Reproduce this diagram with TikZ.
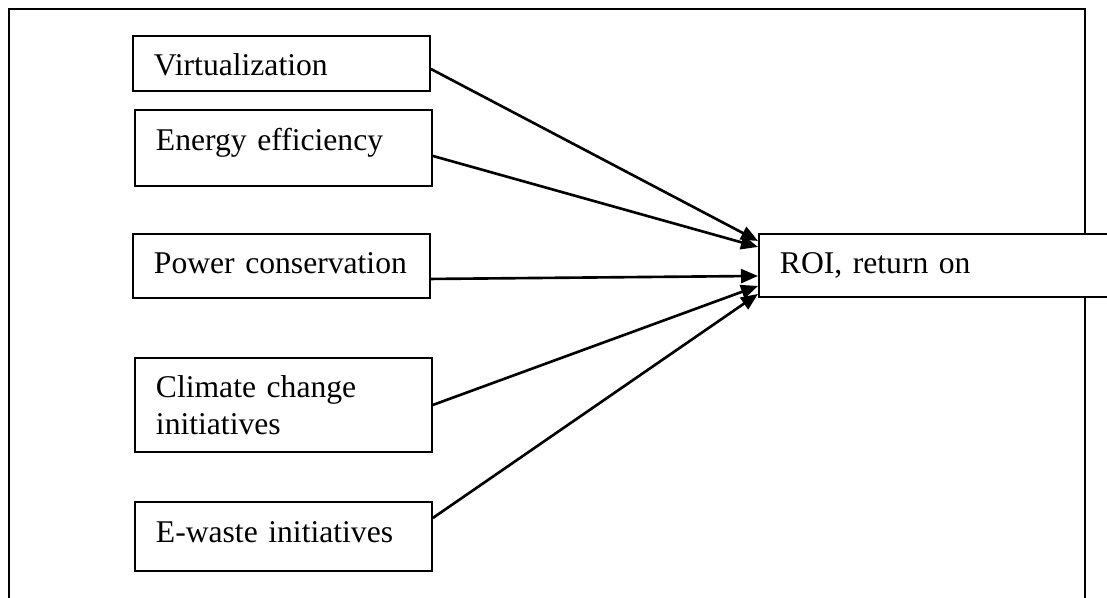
\documentclass[tikz,border=0pt]{standalone}
\usepackage{fontspec}
\setmainfont{Liberation Serif}
\usetikzlibrary{arrows.meta, positioning}

\begin{document}
\begin{tikzpicture}[
    x=0.02cm, y=-0.02cm,
    font=\fontsize{18}{20.7}\selectfont,
    factor/.style={
        rectangle, draw=black, fill=white, line width=1.1pt,
        anchor=north west, align=left, text width=5.1cm,
        inner xsep=0.42cm, inner ysep=0pt
    },
    outcome/.style={factor, text width=6.4cm},
    frame/.style={line width=1.7pt},
    arr/.style={-{Triangle[length=0.34cm, width=0.28cm]}, line width=1.5pt},
]

\useasboundingbox (0,0) rectangle (1107,598);

% outer frame, open at the bottom
\draw[frame] (9,598) -- (9,9) -- (1085,9) -- (1085,598);

\node[factor, text height=0.80cm, text depth=0.30cm] (virt) at (132,35) {Virtualization};

\node[factor, text height=0.82cm, text depth=0.70cm] (energy) at (134,109) {Energy efficiency};

\node[factor, text height=0.80cm, text depth=0.48cm] (power) at (132,233) {Power conservation};

\node[factor, text height=0.80cm, text depth=1.08cm] (climate) at (134,357) {Climate change\\initiatives};

\node[factor, text height=0.82cm, text depth=0.56cm] (ewaste) at (134,501) {E-waste initiatives};

\node[outcome, text height=0.80cm, text depth=0.46cm] (roi) at (758,233) {ROI, return on};

% Arrows
\draw[arr] ([yshift=-0.11cm]virt.east) -- ([yshift=0.49cm]roi.west);
\draw[arr] ([yshift=-0.16cm]energy.east) -- ([yshift=0.37cm]roi.west);
\draw[arr] ([yshift=-0.26cm]power.east) -- ([yshift=-0.21cm]roi.west);
\draw[arr] (climate.east) -- ([yshift=-0.41cm]roi.west);
\draw[arr] ([yshift=0.37cm]ewaste.east) -- ([yshift=-0.57cm]roi.west);

\end{tikzpicture}
\end{document}
